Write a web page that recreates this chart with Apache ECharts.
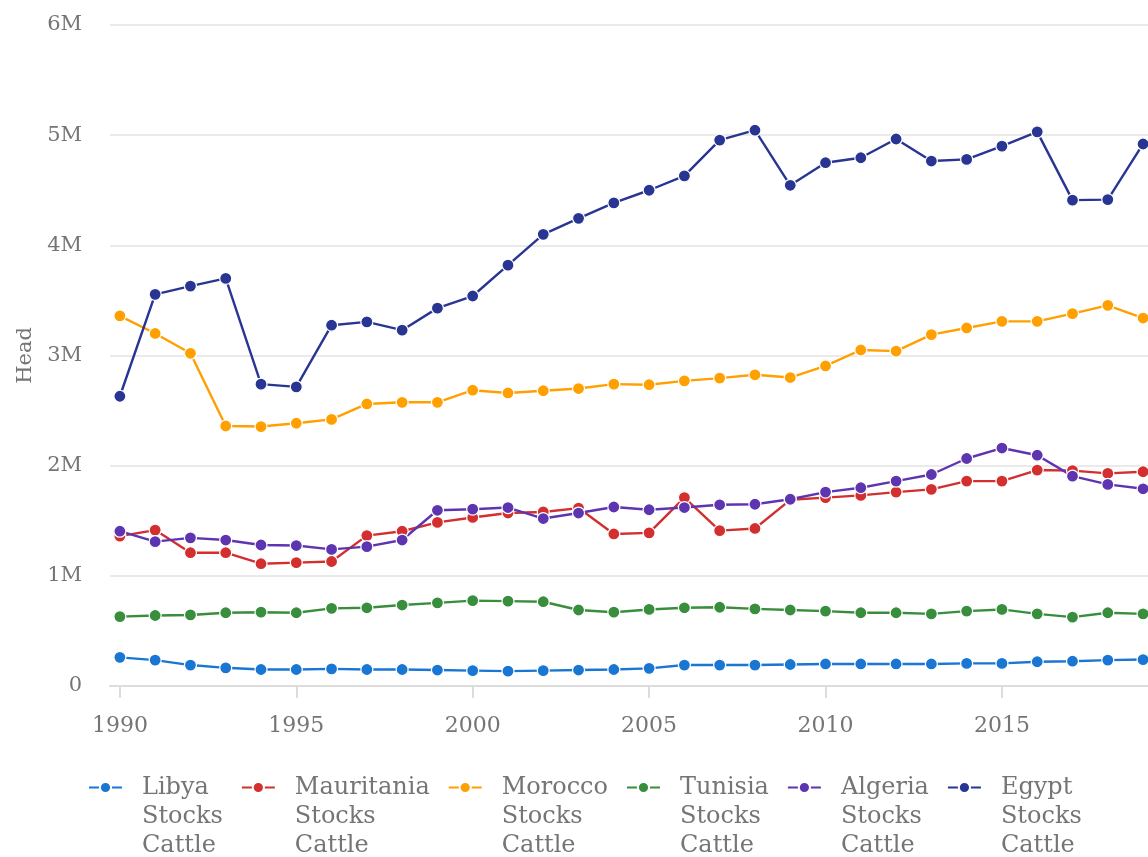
<!DOCTYPE html>
<html>
<head>
<meta charset="utf-8">
<script src="https://cdn.jsdelivr.net/npm/echarts@6/dist/echarts.min.js"></script>
<style>
  html, body { margin: 0; padding: 0; background: #fff; }
  #chart { width: 1148px; height: 857px; }
</style>
</head>
<body>
<div id="chart"></div>
<script>
// years on the x axis
var years = [1990, 1991, 1992, 1993, 1994, 1995, 1996, 1997, 1998, 1999,
             2000, 2001, 2002, 2003, 2004, 2005, 2006, 2007, 2008, 2009,
             2010, 2011, 2012, 2013, 2014, 2015, 2016, 2017, 2018, 2019];
var yearTicks = [1990, 1995, 2000, 2005, 2010, 2015];

// cattle stocks, head
var libya = [260000, 235000, 190000, 165000, 150000, 150000, 155000, 150000, 150000, 145000,
             140000, 135000, 140000, 145000, 150000, 160000, 190000, 190000, 190000, 195000,
             200000, 200000, 200000, 200000, 205000, 205000, 220000, 225000, 235000, 240000];
var mauritania = [1360000, 1415000, 1210000, 1210000, 1110000, 1120000, 1130000, 1365000, 1405000, 1485000,
                  1530000, 1570000, 1580000, 1615000, 1380000, 1390000, 1710000, 1410000, 1430000, 1690000,
                  1710000, 1730000, 1760000, 1785000, 1860000, 1860000, 1960000, 1955000, 1930000, 1945000];
var morocco = [3360000, 3200000, 3020000, 2360000, 2355000, 2385000, 2420000, 2560000, 2575000, 2575000,
               2685000, 2660000, 2680000, 2700000, 2740000, 2735000, 2770000, 2795000, 2825000, 2800000,
               2905000, 3050000, 3040000, 3190000, 3250000, 3310000, 3310000, 3380000, 3455000, 3340000];
var tunisia = [630000, 640000, 645000, 665000, 670000, 665000, 705000, 710000, 735000, 755000,
               775000, 770000, 765000, 690000, 670000, 695000, 710000, 715000, 700000, 690000,
               680000, 665000, 665000, 655000, 680000, 695000, 655000, 625000, 665000, 655000];
var algeria = [1405000, 1310000, 1345000, 1325000, 1280000, 1275000, 1240000, 1265000, 1325000, 1595000,
               1605000, 1620000, 1520000, 1570000, 1625000, 1600000, 1620000, 1645000, 1650000, 1695000,
               1760000, 1800000, 1860000, 1920000, 2065000, 2160000, 2095000, 1905000, 1830000, 1790000];
var egypt = [2630000, 3555000, 3630000, 3700000, 2740000, 2715000, 3275000, 3305000, 3230000, 3430000,
             3540000, 3820000, 4100000, 4245000, 4385000, 4500000, 4630000, 4955000, 5045000, 4545000,
             4750000, 4795000, 4965000, 4765000, 4780000, 4900000, 5030000, 4410000, 4415000, 4920000];

var names = ["Libya Stocks Cattle", "Mauritania Stocks Cattle", "Morocco Stocks Cattle",
             "Tunisia Stocks Cattle", "Algeria Stocks Cattle", "Egypt Stocks Cattle"];
var colors = ["#1976d2", "#d32f2f", "#ffa000", "#388e3c", "#5e35b1", "#283593"];
var values = [libya, mauritania, morocco, tunisia, algeria, egypt];

var font = "DejaVu Serif";
var textColor = "#757575";

function pairs(vals) {
    return years.map(function (y, i) { return [y, vals[i]]; });
}

var chart = echarts.init(document.getElementById("chart"), null, { renderer: "canvas" });

var series = names.map(function (name, i) {
    return {
        name: name,
        type: "line",
        data: pairs(values[i]),
        symbol: "circle",
        symbolSize: 12,
        lineStyle: { width: 2.4, color: colors[i] },
        itemStyle: { color: colors[i], borderColor: "#fff", borderWidth: 1.2 },
        emphasis: { disabled: true },
        animation: false
    };
});

var option = {
    backgroundColor: "#fff",
    animation: false,
    grid: { left: 110, right: 0, top: 25, bottom: 171, outerBoundsMode: "none" },
    xAxis: {
        type: "value",
        min: 1989.72,
        max: 2019.14,
        axisLine: { show: true, lineStyle: { color: "#dcdcdc", width: 2 } },
        axisTick: {
            show: true, length: 12, customValues: yearTicks,
            lineStyle: { color: "#dcdcdc", width: 2 }
        },
        axisLabel: {
            customValues: yearTicks,
            margin: 29,
            color: textColor,
            fontFamily: font,
            fontSize: 22,
            formatter: function (v) { return String(v); }
        },
        splitLine: { show: false }
    },
    yAxis: {
        type: "value",
        min: 0,
        max: 6000000,
        interval: 1000000,
        name: "Head",
        nameLocation: "middle",
        nameGap: 73,
        nameTextStyle: { color: textColor, fontFamily: font, fontSize: 21 },
        axisLine: { show: false },
        axisTick: { show: false },
        axisLabel: {
            margin: 28,
            color: textColor,
            fontFamily: font,
            fontSize: 21,
            formatter: function (v) { return v === 0 ? "0" : (v / 1000000) + "M"; }
        },
        splitLine: { show: true, lineStyle: { color: "#e3e3e3", width: 1.5 } }
    },
    legend: {
        data: names,
        left: 88,
        top: 715,
        padding: 0,
        itemWidth: 33,
        itemHeight: 14,
        itemGap: 18,
        selectedMode: false,
        // two empty lines first so the icon sits next to the first word
        formatter: function (n) {
            return "{e|}\n{e|}\n" + n.split(" ").map(function (w) { return "{t|" + w + "}"; }).join("\n");
        },
        textStyle: {
            color: textColor,
            fontFamily: font,
            fontSize: 24,
            lineHeight: 29,
            rich: {
                t: { color: textColor, fontFamily: font, fontSize: 24, lineHeight: 29, padding: [0, 0, 0, 15] },
                e: { fontSize: 24, lineHeight: 29 }
            }
        }
    },
    series: series
};

chart.setOption(option);
</script>
</body>
</html>
